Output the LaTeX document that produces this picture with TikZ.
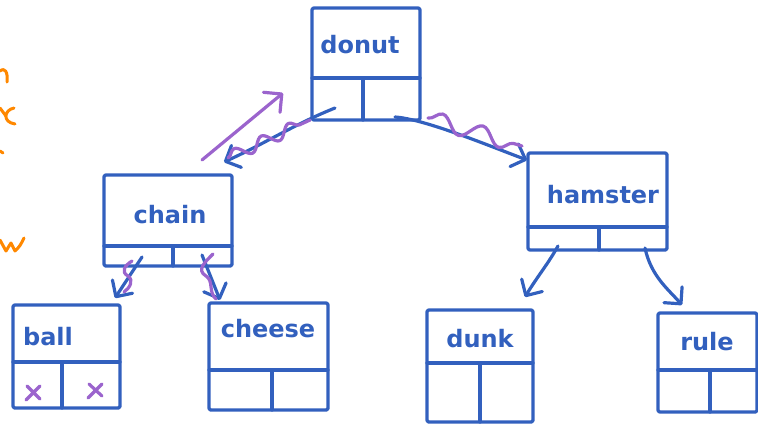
\documentclass[tikz,border=0pt]{standalone}
\usepackage{fontspec}
\setmainfont{DejaVu Sans}
\usetikzlibrary{arrows.meta,decorations.pathmorphing}

\definecolor{ink}{RGB}{50,96,190}
\definecolor{mark}{RGB}{155,100,205}
\definecolor{note}{RGB}{255,136,0}

\tikzset{
  penline/.style={line width=3.2pt, line cap=round, line join=round, draw=ink},
  box/.style={penline, rectangle, inner sep=0pt, outer sep=0pt, rounded corners=1.5pt},
  word/.style={text=ink, font=\bfseries\fontsize{24}{24}\selectfont, inner sep=0pt, anchor=base},
  link/.style={penline, -{Straight Barb[length=12pt, width=24pt, round]}},
  markline/.style={line width=3.2pt, line cap=round, line join=round, draw=mark},
  wave/.style={markline, decorate, decoration={snake, amplitude=#1}},
  noteline/.style={line width=3pt, line cap=round, line join=round, draw=note},
}

% name, left, top, right, bottom, divider height, middle bar position
\newcommand\treebox[7]{%
  \node[box, anchor=north west,
        minimum width={(#4-#2)*1pt}, minimum height={(#5-#3)*1pt}] (#1) at (#2,#3) {};
  \draw[penline] (#2,#6) -- (#4,#6) (#7,#6) -- (#7,#5);
}

\begin{document}
\begin{tikzpicture}[x=1pt, y=-1pt]
\useasboundingbox (0,0) rectangle (758,426);

% the tree
\treebox{donut}{312}{8}{420}{120}{78}{363}
\treebox{chain}{104}{175}{232}{266}{246}{173}
\treebox{hamster}{528}{153}{667}{250}{227}{599}
\treebox{ball}{13}{305}{120}{408}{362}{62}
\treebox{cheese}{209}{303}{328}{410}{370}{272}
\treebox{dunk}{427}{310}{533}{422}{363}{480}
\treebox{rule}{658}{313}{757}{412}{370}{710}

\node[word] (donut-t)   at (360,53)  {donut};
\node[word] (chain-t)   at (170,223) {chain};
\node[word] (hamster-t) at (603,203) {hamster};
\node[word] (ball-t)    at (48,345)  {ball};
\node[word] (cheese-t)  at (268,337) {cheese};
\node[word] (dunk-t)    at (480,347) {dunk};
\node[word] (rule-t)    at (707,350) {rule};

% child pointers
\draw[link] ([shift={(23,-12)}]donut.south west)
   .. controls +(-40,16) and +(40,-18) .. ([shift={(-8,-13)}]chain.north east);
\draw[link] ([shift={(-25,-3)}]donut.south east)
   .. controls +(30,2) and +(-35,-13) .. ([shift={(-1,7)}]hamster.north west);
\draw[link] ([shift={(38,-9)}]chain.south west) -- ([shift={(-5,-7)}]ball.north east);
\draw[link] ([shift={(-30,-11)}]chain.south east) -- ([shift={(11,-3)}]cheese.north west);
\draw[link] ([shift={(30,-4)}]hamster.south west)
   .. controls +(-10,18) and +(12,-20) .. ([shift={(-8,-13)}]dunk.north east);
\draw[link] ([shift={(-22,-2)}]hamster.south east)
   .. controls +(6,28) and +(-14,-16) .. ([shift={(24,-8)}]rule.north west);

% rotation marks
\coordinate (turn-from) at (202,160);
\coordinate (turn-to) at (283,93);
\draw[markline, -{Straight Barb[length=13pt, width=26pt, round]}] (turn-from) -- (turn-to);
\draw[wave=6pt, decoration={segment length=30pt}] (228,158) -- (310,120);
\draw[wave=8pt, decoration={segment length=42pt}] (428,118) -- (522,146);
\draw[markline] (132,261) .. controls (124,266) and (121,272) .. (128,276)
                .. controls (134,280) and (130,288) .. (124,292);
\draw[markline] (213,254) .. controls (205,262) and (196,270) .. (206,276)
                .. controls (214,281) and (208,292) .. (216,299);

% empty children
\draw[markline] (27,386) -- (40,399) (40,386) -- (26,400);
\draw[markline] (89,384) -- (102,396) (102,384) -- (88,398);

% margin notes
\draw[noteline] (0,71) .. controls (5,67) and (8,72) .. (7,82);
\draw[noteline] (14,108) .. controls (4,110) and (2,122) .. (15,124);
\draw[noteline] (0,108) -- (6,116);
\draw[noteline] (0,151) -- (3,153);
\draw[noteline] (0,240) .. controls (3,246) .. (6,251) .. controls (9,246) .. (11,243)
                .. controls (13,247) .. (15,251) .. controls (20,246) .. (24,238);
\end{tikzpicture}
\end{document}
